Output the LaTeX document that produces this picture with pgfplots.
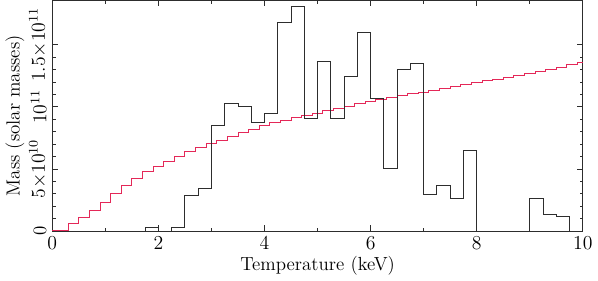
\documentclass[border=0pt]{standalone}
\usepackage{pgfplots}
\pgfplotsset{compat=1.18}
\definecolor{modelred}{RGB}{228,40,88}
\definecolor{histgray}{RGB}{45,45,45}

\begin{document}
\begin{tikzpicture}
\begin{axis}[
    scale only axis,
    width=322pt, height=140pt,
    xmin=0, xmax=10, ymin=0, ymax=18.55,
    xtick={0,2,...,10}, minor xtick={1,3,...,9},
    ytick={0,5,10,15},
    yticklabels={0, $5{\times}10^{10}$, $10^{11}$, $1.5{\times}10^{11}$},
    minor y tick num=4,
    tick align=inside,
    major tick length=3.5pt, minor tick length=2pt,
    axis line style={histgray, line width=0.6pt},
    tick style={histgray, line width=0.5pt},
    tick label style={font=\fontsize{11.5}{13}\selectfont},
    label style={font=\fontsize{11.5}{13}\selectfont},
    yticklabel style={rotate=90, anchor=south},
    xlabel={Temperature (keV)},
    ylabel={Mass (solar masses)},
    xlabel style={yshift=3pt},
    ylabel style={yshift=-4pt},
    clip=false,
]
% model curve (red steps)
\addplot[const plot, modelred, line width=0.6pt] coordinates {
    (0,0.05) (0.3,0.58) (0.5,1.08) (0.7,1.65) (0.9,2.3) (1.1,3.0)
    (1.3,3.68) (1.5,4.25) (1.7,4.77) (1.9,5.2) (2.1,5.62) (2.3,6.0)
    (2.5,6.37) (2.7,6.71) (2.9,7.03) (3.1,7.33) (3.3,7.62) (3.5,7.9)
    (3.7,8.2) (3.9,8.47) (4.1,8.73) (4.3,8.93) (4.5,9.12) (4.7,9.3)
    (4.9,9.48) (5.1,9.67) (5.3,9.86) (5.5,10.05) (5.7,10.23) (5.9,10.41)
    (6.1,10.58) (6.3,10.74) (6.5,10.89) (6.7,11.04) (6.9,11.19) (7.1,11.34)
    (7.3,11.49) (7.5,11.63) (7.7,11.78) (7.9,11.93) (8.1,12.08) (8.3,12.23)
    (8.5,12.38) (8.7,12.53) (8.9,12.68) (9.1,12.85) (9.3,13.02) (9.5,13.2)
    (9.7,13.38) (9.9,13.56) (10,13.56)
};
% measured histogram (0.25 keV bins)
\addplot[const plot, histgray, line width=0.6pt] coordinates {
    (0,0) (1.75,0.27) (2.0,0) (2.25,0.32) (2.5,2.88) (2.75,3.41)
    (3.0,8.52) (3.25,10.3) (3.5,10.04) (3.75,8.7) (4.0,9.45) (4.25,16.8)
    (4.5,18.1) (4.75,9.05) (5.0,13.66) (5.25,9.05) (5.5,12.43) (5.75,15.97)
    (6.0,10.7) (6.25,5.06) (6.5,12.97) (6.75,13.52) (7.0,2.98) (7.25,3.67)
    (7.5,2.66) (7.75,6.47) (8.0,0) (9.0,2.61) (9.25,1.33) (9.5,1.2)
    (9.75,0) (10,0)
};
\end{axis}
\end{tikzpicture}
\end{document}
